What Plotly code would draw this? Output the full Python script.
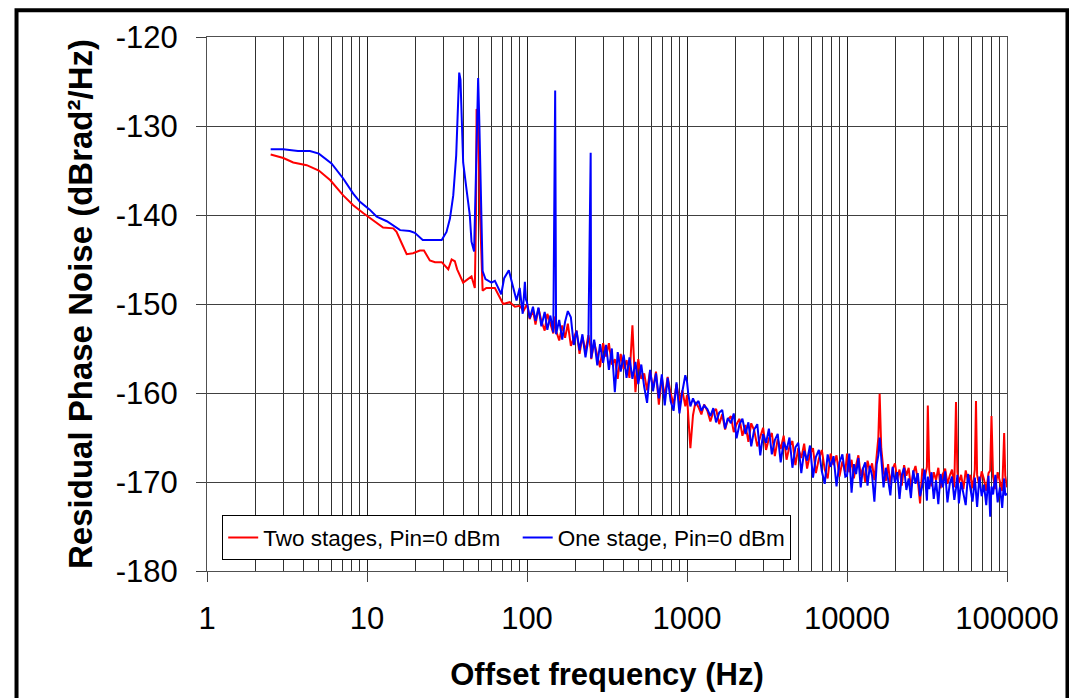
import plotly.graph_objects as go

# Datos: ruido de fase residual vs frecuencia de offset

# tramo bajo (hasta 100 Hz), cada serie con sus propios puntos
frec_baja_roja = [2.5, 3.0, 3.46, 4.2, 5.0, 5.9, 7.1, 8.2, 9.5, 11.0,
                  12.6, 14.6, 15.3, 16.5, 17.7, 19.4, 21.4, 22.7, 24.7, 26.6,
                  29.3, 32.2, 33.8, 35.4, 36.6, 39.9, 42.9, 45.0, 47.2, 48.0,
                  48.4, 49.5, 50.2, 50.9, 52.8, 55.7, 63, 66, 71, 78,
                  84, 90, 95]
db_baja_roja = [-133.2, -133.6, -134.1, -134.4, -135.0, -136.1, -137.8, -138.9, -139.8, -140.6,
                -141.4, -141.5, -141.9, -143.2, -144.4, -144.3, -144.0, -144.0, -145.1, -145.3,
                -145.3, -146.1, -145.0, -145.2, -146.1, -147.6, -147.2, -146.9, -148.2, -140.0,
                -128.1, -128.5, -135.0, -140.0, -148.5, -148.2, -148.2, -148.9, -150.0, -149.8,
                -150.3, -150.2, -150.8]

frec_baja_azul = [2.5, 3.0, 3.7, 4.4, 5.0, 6.0, 7.1, 8.2, 9.0, 10.4,
                  11.5, 13.3, 16.1, 18.5, 19.9, 22.3, 29.3, 31.4, 33.0, 34.6,
                  36.1, 36.9, 37.2, 37.7, 38.4, 39.0, 39.9, 41.8, 43.9, 45.0,
                  46.7, 47.9, 48.8, 49.5, 50.3, 51.3, 52.8, 55.0, 60, 63,
                  69, 72, 77, 80, 86, 90, 94, 97, 98.5]
db_baja_azul = [-132.6, -132.6, -132.8, -132.8, -133.1, -134.2, -135.9, -137.6, -138.5, -139.4,
                -140.2, -140.7, -141.7, -141.8, -142.0, -142.8, -142.8, -141.9, -140.4, -137.8,
                -133.3, -128.5, -125.5, -124.0, -124.8, -128.5, -134.1, -137.0, -140.0, -143.0,
                -144.1, -135.9, -127.8, -124.6, -129.2, -137.8, -146.3, -147.2, -147.6, -147.4,
                -148.9, -147.1, -146.2, -147.4, -149.6, -148.2, -151.1, -147.5, -149.5]

# tramo alto (100 Hz - 100 kHz), rejilla comun
frec_alta = [100, 104, 109, 113, 118, 123, 129, 134, 140, 146,
             150, 152, 159, 166, 173, 180, 188, 196, 204, 213,
             222, 232, 242, 250, 252, 263, 275, 286, 299, 312,
             325, 339, 354, 369, 385, 402, 419, 437, 456, 476,
             496, 518, 540, 563, 588, 613, 640, 667, 696, 726,
             757, 790, 824, 860, 897, 936, 976,
             1000, 1020, 1050, 1090, 1130, 1180, 1230, 1280, 1340, 1400,
             1460, 1520, 1590, 1660, 1730, 1800, 1880, 1960, 2040, 2130,
             2220, 2320, 2420, 2520, 2630, 2750, 2870, 2990, 3120, 3250,
             3390, 3540, 3690, 3850, 4020, 4190, 4370, 4560, 4760, 4960,
             5180, 5400, 5630, 5870, 6130, 6390, 6670, 6960, 7260, 7570,
             7900, 8240, 8600, 8970, 9360, 9760,
             10000, 10330, 10680, 11040, 11400, 11780, 12180, 12580, 13000, 13440,
             13890, 14350, 14830, 15330, 15700, 16000, 16370, 16920, 17480, 18070,
             18670, 19290, 19940, 20600, 21290, 22000, 22740, 23500, 24280, 25090,
             25930, 26800, 27690, 28620, 29570, 30560, 31580, 32000, 32640, 33730,
             34850, 36020, 37220, 38460, 39740, 41070, 42440, 43860, 45320, 46840,
             48000, 49000, 50020, 51690, 53410, 55200, 57040, 58940, 60910, 62940,
             64000, 65040, 67210, 69460, 71780, 74170, 76650, 78500, 80000, 81850,
             84580, 87410, 90330, 93340, 96000, 97500, 100000]

db_alta_roja = [-150.0, -151.7, -150.7, -152.3, -150.5, -151.9, -153.0, -151.1, -152.2, -153.3,
                -151.4, -153.0, -154.1, -152.4, -153.8, -152.2, -154.7, -153.7, -153.0, -155.6,
                -153.7, -155.3, -153.5, -155.0, -156.2, -154.3, -155.8, -157.1, -154.4, -155.9,
                -154.4, -156.8, -156.2, -158.4, -155.6, -157.3, -156.3, -158.3, -152.4, -159.9,
                -156.2, -158.4, -157.8, -159.7, -157.5, -159.5, -157.6, -161.3, -158.3, -160.4,
                -158.2, -160.0, -161.3, -159.0, -160.9, -159.7, -161.5,
                -160.2, -162.8, -166.2, -162.5, -161.0, -161.6, -162.4, -161.3, -162.0, -163.2,
                -162.1, -161.8, -163.5, -162.4, -164.1, -163.0, -162.6, -164.4, -163.5, -162.9,
                -164.8, -163.6, -165.5, -163.4, -164.2, -166.0, -164.9, -163.9, -166.4, -165.1,
                -164.5, -167.1, -165.2, -166.3, -164.8, -167.5, -166.0, -165.4, -168.1, -166.2,
                -167.3, -165.7, -168.5, -166.9, -166.2, -169.0, -167.4, -166.4, -168.6, -169.6,
                -166.8, -168.1, -167.0, -169.4, -167.7, -168.9,
                -166.8, -168.9, -167.5, -169.6, -168.1, -167.0, -169.3, -168.4, -170.0, -167.6,
                -168.7, -167.9, -169.8, -166.9, -165.0, -160.1, -166.2, -168.8, -169.9, -168.0,
                -170.3, -168.5, -167.9, -169.6, -168.6, -170.4, -168.1, -169.3, -168.4, -170.6,
                -169.0, -168.2, -169.8, -172.4, -168.5, -169.6, -168.3, -161.4, -168.6, -170.5,
                -168.9, -169.8, -168.4, -170.7, -169.1, -168.5, -170.2, -169.3, -168.6, -170.6,
                -161.0, -168.9, -170.1, -169.2, -170.8, -168.7, -169.9, -169.2, -170.7, -168.6,
                -160.9, -169.2, -170.5, -168.8, -169.7, -171.0, -169.0, -168.7, -162.6, -169.4,
                -170.8, -168.9, -169.8, -171.0, -164.5, -169.3, -170.6]

db_alta_azul = [-149.8, -151.6, -150.3, -151.9, -150.4, -152.5, -150.9, -152.9, -151.3, -153.2,
                -126.0, -153.4, -151.8, -154.0, -152.0, -150.8, -151.5, -154.6, -153.0, -155.2,
                -153.4, -156.0, -153.9, -133.0, -156.1, -154.0, -156.9, -154.5, -156.6, -154.6,
                -157.4, -155.0, -159.9, -155.4, -157.6, -155.7, -158.3, -156.0, -158.4, -156.5,
                -159.0, -156.8, -159.3, -161.1, -157.4, -159.8, -157.8, -160.6, -157.9, -161.4,
                -158.3, -160.9, -162.0, -158.8, -162.3, -159.8, -158.0,
                -158.7, -160.2, -161.5, -160.6, -161.3, -160.9, -162.0, -161.4, -161.8, -162.6,
                -161.7, -163.3, -162.2, -161.9, -164.0, -162.8, -163.4, -162.3, -165.1, -163.5,
                -162.9, -164.6, -163.3, -166.0, -164.1, -163.5, -167.0, -164.6, -165.6, -164.0,
                -166.9, -165.3, -164.6, -167.8, -165.5, -166.4, -165.0, -168.4, -166.1, -165.6,
                -169.0, -166.5, -167.6, -165.9, -169.5, -167.2, -166.4, -168.8, -170.2, -166.9,
                -168.3, -167.1, -170.5, -167.8, -166.9, -169.4,
                -169.3, -166.8, -171.2, -168.0, -169.1, -167.3, -170.6, -168.5, -167.8, -170.4,
                -168.2, -169.3, -172.2, -168.0, -167.0, -165.0, -167.8, -170.6, -168.4, -169.7,
                -171.5, -168.3, -170.1, -168.9, -171.9, -169.2, -168.4, -170.9, -169.6, -171.8,
                -168.7, -170.2, -169.0, -171.6, -170.4, -168.6, -172.1, -169.4, -170.8, -168.9,
                -171.9, -169.8, -172.5, -169.1, -170.6, -168.8, -172.3, -170.2, -169.4, -172.0,
                -170.7, -169.2, -172.4, -170.0, -171.3, -172.6, -169.1, -170.9, -172.2, -169.5,
                -171.0, -172.8, -169.4, -171.6, -170.3, -172.6, -169.3, -173.9, -170.5, -171.4,
                -169.2, -172.3, -170.6, -172.9, -169.6, -171.5, -171.3]

marcas_x = [1, 10, 100, 1000, 10000, 100000]
textos_x = ["1", "10", "100", "1000", "10000", "100000"]
marcas_y = [-180, -170, -160, -150, -140, -130, -120]
textos_y = ["-180", "-170", "-160", "-150", "-140", "-130", "-120"]

fuente = "Liberation Sans, Arial, sans-serif"

fig = go.Figure()

fig.add_trace(go.Scatter(
    x=frec_baja_roja + frec_alta, y=db_baja_roja + db_alta_roja,
    mode="lines", name="Two stages, Pin=0 dBm  ",
    line=dict(color="#FF0000", width=2)
))
fig.add_trace(go.Scatter(
    x=frec_baja_azul + frec_alta, y=db_baja_azul + db_alta_azul,
    mode="lines", name="One stage, Pin=0 dBm",
    line=dict(color="#0000FF", width=2)
))

# marco negro alrededor de todo
fig.add_shape(type="rect", xref="paper", yref="paper",
              x0=-0.2381, x1=1.0756, y0=-0.30, y1=1.0501,
              line=dict(color="black", width=4), layer="above")

fig.update_layout(
    width=1069, height=690,
    margin=dict(l=199, r=70, t=29, b=122),
    paper_bgcolor="white", plot_bgcolor="white",
    font=dict(family=fuente, size=31, color="black"),
    showlegend=True,
    legend=dict(
        orientation="h", x=0.019, y=0.104, xanchor="left", yanchor="top",
        bgcolor="white", bordercolor="black", borderwidth=1,
        font=dict(family=fuente, size=22.5, color="black"),
        itemwidth=30, tracegroupgap=0
    ),
    xaxis=dict(
        type="log", range=[0, 5],
        tickvals=marcas_x, ticktext=textos_x,
        ticks="outside", ticklen=10, tickcolor="#404040", ticklabelstandoff=10,
        showgrid=True, gridcolor="#202020", gridwidth=1,
        minor=dict(dtick="D1", showgrid=True, gridcolor="#303030", gridwidth=1, ticks=""),
        showline=True, linecolor="#505050", linewidth=1, mirror=True,
        zeroline=False,
        title=dict(text="<b>Offset frequency (Hz)</b>", standoff=28,
                   font=dict(family=fuente, size=31)),
    ),
    yaxis=dict(
        range=[-180, -120], tickvals=marcas_y, ticktext=textos_y,
        ticks="outside", ticklen=10, tickcolor="#404040", ticklabelstandoff=12,
        showgrid=True, gridcolor="#404040", gridwidth=1,
        showline=True, linecolor="#505050", linewidth=1, mirror=True,
        zeroline=False,
        title=dict(text="<b>Residual Phase Noise (dBrad²/Hz)</b>", standoff=13,
                   font=dict(family=fuente, size=33)),
    ),
)

fig.write_html("out.html")
